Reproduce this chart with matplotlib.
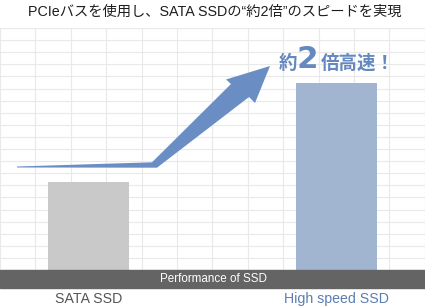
import matplotlib
matplotlib.use("Agg")
import matplotlib.pyplot as plt
from matplotlib.patches import Polygon
import numpy as np

# ---- data ----
categories = ["SATA SSD", "High speed SSD"]
performance = [88, 187]          # relative performance (bar heights, arbitrary units)
title = "PCIeバスを使用し、SATA SSDの“約2倍”のスピードを実現"
axis_label = "Performance of SSD"
callout_parts = ["約", "2", "倍高速！"]

W, H = 425, 307
fig = plt.figure(figsize=(W / 100, H / 100), dpi=100)
fig.patch.set_facecolor("white")

FONT = ["Liberation Sans", "Noto Sans CJK JP", "DejaVu Sans"]

def fy(py):
    return 1 - py / H

# ---- bar axes (grid area) ----
grid_top, base = 28, 270
axb = fig.add_axes([0, fy(base), 1, (base - grid_top) / H])
px_per_unit = 248.0
c0 = 88.5
axb.set_xlim(-c0 / px_per_unit, (W - c0) / px_per_unit)
axb.set_ylim(0, base - grid_top)
axb.axis("off")

# grid
gcol = "#e9e9e9"
for gxp in np.arange(0, W + 1, 35.4):
    axb.axvline((gxp - c0) / px_per_unit, color=gcol, lw=0.8, zorder=0)
for gyp in np.linspace(0, base - grid_top, 21):
    axb.axhline(gyp, color=gcol, lw=0.8, zorder=0)

xpos = np.arange(len(categories))
axb.bar(xpos, performance, width=81 / px_per_unit,
        color=["#c9c9c9", "#a1b5d1"], zorder=2)

# ---- overlay axes in pixel coords ----
ax = fig.add_axes([0, 0, 1, 1])
ax.set_xlim(0, W)
ax.set_ylim(H, 0)
ax.axis("off")
ax.patch.set_alpha(0)

# dark band
ax.add_patch(plt.Rectangle((0, 270), W, 18, color="#646464", zorder=3))
ax.text(213, 279.5, axis_label, color="white", fontsize=8.4, ha="center",
        va="center", family=FONT, zorder=4)

# category labels
label_cols = ["#555555", "#5b7db1"]
for i, (cat, col) in enumerate(zip(categories, label_cols)):
    ax.text(c0 + i * px_per_unit, 299, cat, color=col, fontsize=10.2,
            ha="center", va="center", family=FONT)

# title
ax.text(214.5, 12, title, color="#1e1e1e", fontsize=10.3, ha="center",
        va="center", family=FONT)

# arrow
arrow_pts = [
    (17, 166.5), (152, 162.3), (231, 84), (226, 79.5), (270, 66),
    (255, 103), (249, 97), (157, 167.7), (17, 167.5)
]
ax.add_patch(Polygon(arrow_pts, closed=True, color="#6a8ec4", lw=0, zorder=5))

# callout text
ccol = "#6488c0"
ax.text(279.0, 68.6, callout_parts[0], color=ccol, fontsize=13.3, fontweight="bold",
        ha="left", va="baseline", family=["Noto Sans CJK JP"])
ax.text(297.0, 68.3, callout_parts[1], color=ccol, fontsize=22.3, fontweight="bold",
        ha="left", va="baseline", family=["DejaVu Sans"])
ax.text(320.5, 68.6, callout_parts[2], color=ccol, fontsize=13.3, fontweight="bold",
        ha="left", va="baseline", family=["Noto Sans CJK JP"])

fig.savefig("out.png", dpi=100)
